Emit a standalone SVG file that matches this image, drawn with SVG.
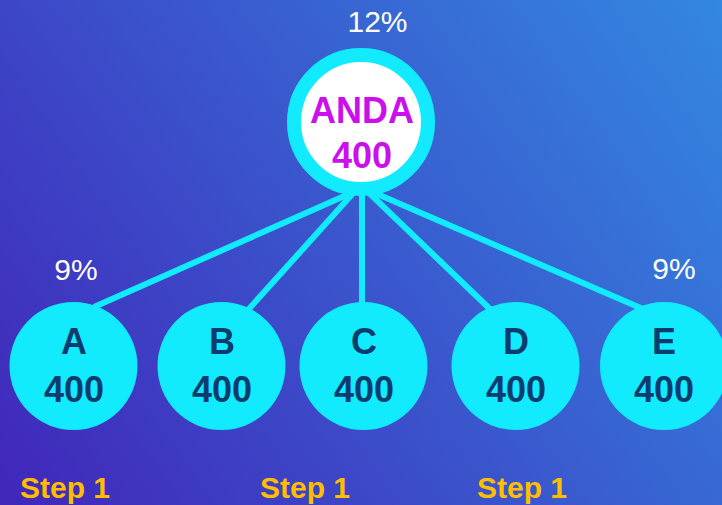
<svg xmlns="http://www.w3.org/2000/svg" width="722" height="505" viewBox="0 0 722 505">
<defs>
<linearGradient id="bg" x1="0" y1="505" x2="722" y2="0" gradientUnits="userSpaceOnUse">
<stop offset="0" stop-color="#4126BA"/>
<stop offset="1" stop-color="#3388E0"/>
</linearGradient>
<style>
.pct{font-family:"Liberation Sans",Arial,sans-serif;font-size:30px;fill:#FFFFFF;text-anchor:middle}
.node circle{fill:#12EBFE}
.node text{font-family:"Liberation Sans",Arial,sans-serif;font-size:36px;font-weight:bold;fill:#0B3C6E;text-anchor:middle}
.root text{font-family:"Liberation Sans",Arial,sans-serif;font-size:36px;font-weight:bold;fill:#CC10EC;text-anchor:middle}
.step{font-family:"Liberation Sans",Arial,sans-serif;font-size:30px;font-weight:bold;fill:#FFBE00;text-anchor:middle}
.edge{stroke:#12EBFE;stroke-width:6;fill:none}
</style>
</defs>
<rect x="0" y="0" width="722" height="505" fill="url(#bg)"/>
<g id="connectors">
<line class="edge" x1="358" y1="190" x2="94" y2="307"/>
<line class="edge" x1="356" y1="190" x2="248" y2="310"/>
<line class="edge" x1="362" y1="190" x2="362" y2="305"/>
<line class="edge" x1="366" y1="190" x2="491" y2="310"/>
<line class="edge" x1="368" y1="190" x2="643" y2="309"/>
</g>
<g id="root" class="root">
<circle cx="361" cy="122" r="67" fill="#FFFFFF" stroke="#12EBFE" stroke-width="14"/>
<text x="362" y="123">ANDA</text>
<text x="362" y="168">400</text>
</g>
<g id="nodeA" class="node">
<circle cx="73.5" cy="366" r="64"/>
<text x="74" y="354">A</text>
<text x="74" y="402">400</text>
</g>
<g id="nodeB" class="node">
<circle cx="221.5" cy="366" r="64"/>
<text x="222" y="354">B</text>
<text x="222" y="402">400</text>
</g>
<g id="nodeC" class="node">
<circle cx="363.5" cy="366" r="64"/>
<text x="364" y="354">C</text>
<text x="364" y="402">400</text>
</g>
<g id="nodeD" class="node">
<circle cx="515.5" cy="366" r="64"/>
<text x="516" y="354">D</text>
<text x="516" y="402">400</text>
</g>
<g id="nodeE" class="node">
<circle cx="664" cy="366" r="64"/>
<text x="664" y="354">E</text>
<text x="664" y="402">400</text>
</g>
<text class="pct" x="377.5" y="32">12%</text>
<text class="pct" x="76" y="280">9%</text>
<text class="pct" x="674" y="279">9%</text>
<text class="step" x="65" y="498">Step 1</text>
<text class="step" x="305" y="498">Step 1</text>
<text class="step" x="522" y="498">Step 1</text>
</svg>
